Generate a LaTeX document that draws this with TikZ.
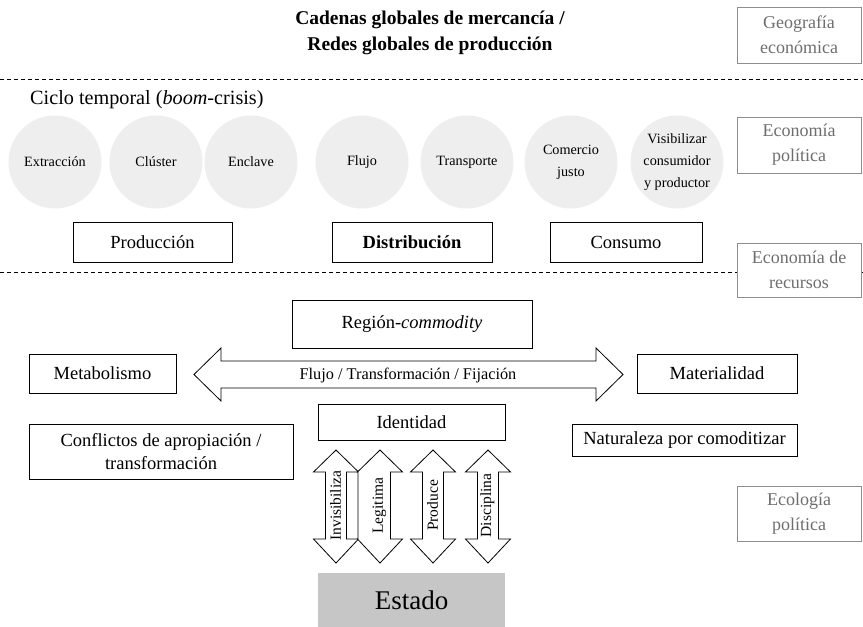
\documentclass[tikz,border=0pt]{standalone}
\usepackage{fontspec}
\setmainfont{Liberation Serif}
\definecolor{circfill}{HTML}{EEEEEE}
\definecolor{labgray}{HTML}{8E8E8E}
\definecolor{labtext}{HTML}{6E6E6E}
\definecolor{estadofill}{HTML}{C6C6C6}
\tikzset{
  outl/.style={draw=black, line width=0.8pt},
  boxnode/.style={outl, fill=white, inner sep=1pt, align=center, font=\fontsize{18.5}{23}\selectfont},
  labbox/.style={draw=labgray, line width=0.8pt, fill=white, text=labtext, minimum width=124pt, align=center, inner sep=0pt, font=\fontsize{18}{25}\selectfont},
  circnode/.style={circle, fill=circfill, minimum size=93pt, inner sep=0pt, align=center, font=\fontsize{14.2}{22}\selectfont},
  dashline/.style={line width=0.8pt, dash pattern=on 4pt off 3pt},
  vtext/.style={rotate=90, inner sep=0pt, font=\fontsize{15.5}{18}\selectfont},
}
\begin{document}
\begin{tikzpicture}[x=1pt, y=-1pt]
\useasboundingbox (0,0) rectangle (863,627);

% title
\node[align=center, font=\bfseries\fontsize{19.5}{25.5}\selectfont] (title) at (430,33) {Cadenas globales de mercancía /\\Redes globales de producción};

% discipline labels
\node[labbox, minimum height=56pt] (geo) at (799,35) {Geografía\\económica};
\draw[dashline] (0,79) -- (863,79);
\node[labbox, minimum height=56pt] (ecpol) at (799,145) {Economía\\política};

% temporal cycle
\node[anchor=west, inner sep=0pt, font=\fontsize{20.2}{23}\selectfont] (ciclo) at (30,100) {Ciclo temporal (\textit{boom}-crisis)};

\node[circnode] (extr) at (55,162) {Extracción};
\node[circnode] (clus) at (156,162) {Clúster};
\node[circnode] (encl) at (251,162) {Enclave};
\node[circnode] (fluj) at (362,162) {Flujo};
\node[circnode] (tran) at (467,162) {Transporte};
\node[circnode] (come) at (571,162) {Comercio\\justo};
\node[circnode] (visi) at (677,162) {Visibilizar\\consumidor\\y productor};

% stages
\node[boxnode, minimum width=159pt, minimum height=40pt] (prod) at (152.5,242) {Producción};
\node[boxnode, minimum width=160pt, minimum height=40pt, font=\bfseries\fontsize{18.5}{23}\selectfont] (dist) at (412,242) {Distribución};
\node[boxnode, minimum width=152pt, minimum height=40pt] (cons) at (626,242) {Consumo};

\draw[dashline] (0,272) -- (863,272);
\node[labbox, minimum height=54pt] (ecrec) at (799,270) {Economía de\\recursos};

% region-commodity
\node[boxnode, minimum width=240pt, minimum height=48pt] (region) at (412,324) {Región-\textit{commodity}};

% horizontal double arrow
\draw[outl, fill=white] (194,374.5) -- (221,348) -- (221,361) -- (596,361) -- (596,348) -- (623,374.5) -- (596,401) -- (596,388) -- (221,388) -- (221,401) -- cycle;
\node[inner sep=0pt, font=\fontsize{16.3}{19}\selectfont] (flujo) at (408,375) {Flujo / Transformación / Fijación};

\node[boxnode, minimum width=147pt, minimum height=39pt] (meta) at (102.5,373.5) {Metabolismo};
\node[boxnode, minimum width=160pt, minimum height=39pt] (mate) at (717,373.5) {Materialidad};

\node[boxnode, minimum width=187pt, minimum height=36pt] (iden) at (411.5,422) {Identidad};
\node[boxnode, minimum width=264pt, minimum height=55pt] (conf) at (161,451.5) {Conflictos de apropiación /\\transformación};
\node[boxnode, minimum width=225pt, minimum height=32pt] (natu) at (684.5,440) {Naturaleza por comoditizar};

% vertical double arrows
\foreach \cx/\sl/\lab/\nm in {336/10.5/Invisibiliza/inv, 380/22/Legitima/leg, 433/10.5/Produce/pro, 488/10.5/Disciplina/dis} {
  \draw[outl, fill=white] (\cx,450) -- (\cx+22.5,472) -- (\cx+10.5,472) -- (\cx+10.5,539) -- (\cx+22.5,539) -- (\cx,563) -- (\cx-22.5,539) -- (\cx-\sl,539) -- (\cx-\sl,472) -- (\cx-22.5,472) -- cycle;
  \node[vtext] (\nm) at (\cx-0.5,505.5) {\lab};
}

% state
\node[fill=estadofill, minimum width=187pt, minimum height=55pt, inner sep=0pt, font=\fontsize{27}{30}\selectfont] (estado) at (411.5,600.5) {Estado};

\node[labbox, minimum height=55pt] (ecol) at (799,513.5) {Ecología\\política};
\end{tikzpicture}
\end{document}
